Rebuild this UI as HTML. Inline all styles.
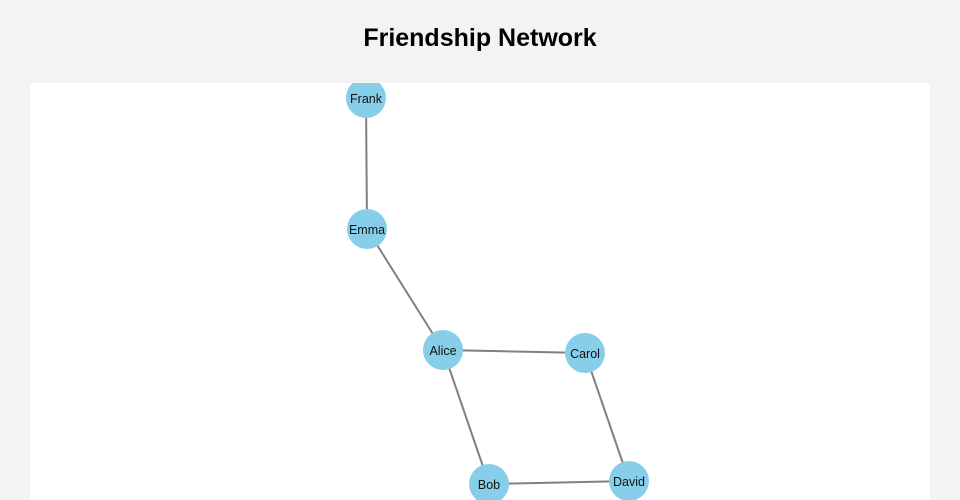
<!DOCTYPE html>
<html><head><style>
html,body{margin:0;padding:0;background:#f3f3f3;width:960px;height:500px;overflow:hidden;font-family:"Liberation Sans",sans-serif;}
</style></head><body>
<svg width="960" height="500" xmlns="http://www.w3.org/2000/svg">
<rect width="960" height="500" fill="#f3f3f3"/>
<text x="480" y="46" text-anchor="middle" font-family="Liberation Sans, sans-serif" font-weight="bold" font-size="25" fill="#000">Friendship Network</text>
<rect x="30" y="83" width="900" height="417" fill="#fff"/>
<clipPath id="c"><rect x="30" y="83" width="900" height="417"/></clipPath>
<g clip-path="url(#c)">
<g stroke="#808080" stroke-width="2">
<line x1="366" y1="98" x2="367" y2="229"/>
<line x1="367" y1="229" x2="443" y2="350"/>
<line x1="443" y1="350" x2="585" y2="353"/>
<line x1="443" y1="350" x2="489" y2="484"/>
<line x1="585" y1="353" x2="629" y2="481"/>
<line x1="489" y1="484" x2="629" y2="481"/>
</g>
<g fill="#87ceeb">
<circle cx="366" cy="98" r="20"/>
<circle cx="367" cy="229" r="20"/>
<circle cx="443" cy="350" r="20"/>
<circle cx="585" cy="353" r="20"/>
<circle cx="489" cy="484" r="20"/>
<circle cx="629" cy="481" r="20"/>
</g>
<g font-family="Liberation Sans, sans-serif" font-size="12.5" fill="#111" text-anchor="middle" dominant-baseline="central">
<text x="366" y="99">Frank</text>
<text x="367" y="230">Emma</text>
<text x="443" y="351">Alice</text>
<text x="585" y="354">Carol</text>
<text x="489" y="485">Bob</text>
<text x="629" y="482">David</text>
</g>
</g>
</svg>
</body></html>
